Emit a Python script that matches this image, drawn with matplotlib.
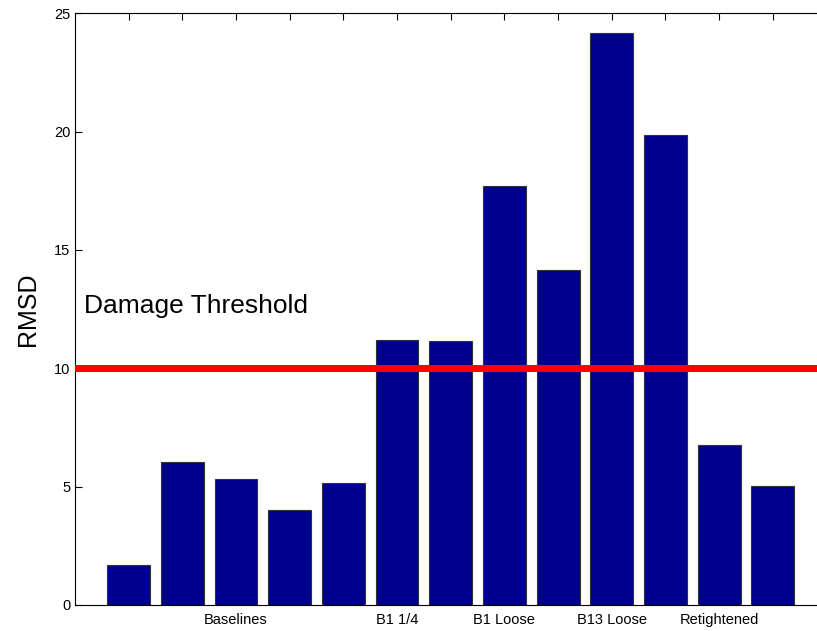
import matplotlib.pyplot as plt
import numpy as np

plt.rcParams['font.family'] = ['Liberation Sans', 'DejaVu Sans']

# data
labels = ['', '', 'Baselines', '', '', 'B1 1/4', '', 'B1 Loose', '', 'B13 Loose', '', 'Retightened', '']
rmsd = [1.68, 6.04, 5.31, 4.0, 5.15, 11.2, 11.15, 17.7, 14.15, 24.15, 19.86, 6.76, 5.01]
threshold = 10

fig = plt.figure(figsize=(8.17, 6.31), dpi=100)
ax = fig.add_axes([75 / 817, 26 / 631, 751.4 / 817, 591.7 / 631])

x = np.arange(1, len(rmsd) + 1)
ax.bar(x, rmsd, width=0.8, color='#00008F', edgecolor='#333333', linewidth=0.8, zorder=2)
ax.axhline(threshold, color='#FF0000', linewidth=5, zorder=3)
ax.text(0.17, 12.65, 'Damage Threshold', fontsize=19, va='center', ha='left')

ax.set_xlim(0, 14)
ax.set_ylim(0, 25)
ax.set_xticks(x)
ax.set_xticklabels(labels, fontsize=10.5)
ax.set_yticks([0, 5, 10, 15, 20, 25])
ax.tick_params(direction='in', length=5, width=0.8, top=True, right=True, labelsize=10.5)
ax.tick_params(axis='x', pad=6)
ax.set_ylabel('RMSD', fontsize=18, labelpad=10)
for s in ax.spines.values():
    s.set_linewidth(0.8)

fig.savefig('out.png', dpi=100)
